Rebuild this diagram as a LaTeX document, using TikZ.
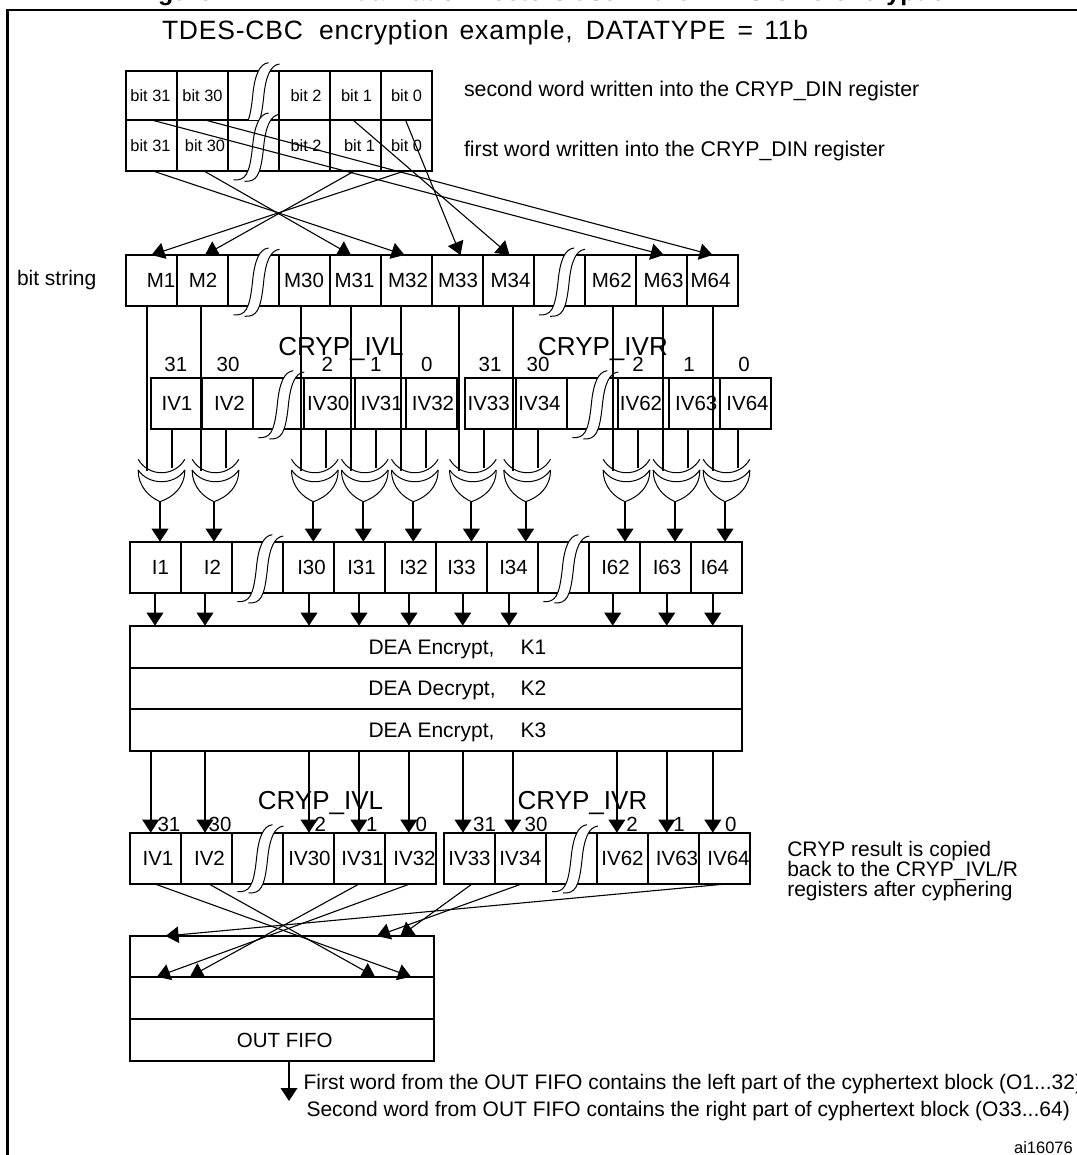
\documentclass[tikz,border=0pt]{standalone}
\usepackage{fontspec}
\setmainfont{Liberation Sans}
\usetikzlibrary{arrows.meta,calc}
\newcommand\fs[1]{\fontsize{#1}{#1}\selectfont}
\newcommand\off[2]{\makebox[0pt][c]{\hspace*{#1pt}\hspace*{#1pt}#2}}
\tikzset{
  x=1pt,y=-1pt,
  cell/.style={draw,line width=2pt,inner sep=0pt,outer sep=0pt,align=center,text depth=0pt},
  bitcell/.style={cell,font=\fs{16.4},text height=11.8pt},
  regcell/.style={cell,font=\fs{20.5},text height=14.7pt},
  txt/.style={inner sep=0pt,outer sep=0pt,anchor=base west,font=\fs{21.3}},
  idx/.style={inner sep=0pt,outer sep=0pt,font=\fs{20.5}},
  regname/.style={inner sep=0pt,outer sep=0pt,anchor=base,font=\fs{26}},
  slant/.style={line width=1.1pt,-{Triangle[length=13pt,width=16.5pt]}},
  bus/.style={line width=2pt,-{Triangle[length=13pt,width=16.5pt]}},
  feed/.style={line width=2pt},
  gateline/.style={line width=1pt},
  squigline/.style={line width=1pt}
}
\newcommand\cellbox[7][regcell]{\node[#1,minimum width={(#3-#2)*1pt},minimum height={(#5-#4)*1pt}] (#6) at ({(#2+#3)/2},{(#4+#5)/2}) {#7};}
\newcommand\squig[2]{%
  \begin{scope}[shift={(#1,#2)}]
    \fill[white] (0,0) .. controls (12,.5) and (16,-5) .. (19,-33) .. controls (21,-55) and (26,-66) .. (35,-67)
      -- (46,-65.7) .. controls (37,-64.7) and (32,-53.7) .. (30,-31.7) .. controls (27,-3.7) and (23,.8) .. (11,1.3) -- cycle;
    \draw[squigline] (0,0) .. controls (12,.5) and (16,-5) .. (19,-33) .. controls (21,-55) and (26,-66) .. (35,-67);
    \draw[squigline] (11,1.3) .. controls (23,1.8) and (27,-3.7) .. (30,-31.7) .. controls (32,-53.7) and (37,-64.7) .. (46,-65.7);
  \end{scope}}
\newcommand\xorgate[2]{%
  \pgfmathsetmacro\cx{#2+1.5}
  \draw[gateline] ({\cx-23.3},459.3) .. controls ({\cx-13},477.2) and ({\cx+13},477.2) .. ({\cx+23.3},459.3);
  \draw[gateline] ({\cx-23.3},470) .. controls ({\cx-13},485.6) and ({\cx+13},485.6) .. ({\cx+23.3},470);
  \draw[gateline] ({\cx-23.3},470) .. controls ({\cx-23.3},487) and ({\cx-12},497) .. (#2,501.7)
     .. controls ({\cx+12},497) and ({\cx+23.3},487) .. ({\cx+23.3},470);
  \coordinate (#1) at (#2,501.7);}
\begin{document}
\begin{tikzpicture}
\useasboundingbox (0,0) rectangle (1076,1155);
\fill[white] (0,0) rectangle (1076,1155);
% cut-off heading
\begin{scope}
  \clip (0,0) rectangle (1076,6);
  \node[txt,font=\fs{25}\bfseries] (heading) at (136,0.5) {Figure 211.\hspace{60pt}Initialization vectors use in the TDES-CBC encryption};
\end{scope}
% frame
\draw[line width=2.2pt] (1080,10) -- (7.5,10) -- (7.5,1160);
% title and notes
\node[txt,font=\fs{26.5}\addfontfeature{LetterSpace=3}] (title) at (162,39.5) {TDES-CBC\hspace{8pt} encryption\hspace{3pt} example,\hspace{5pt} DATATYPE\hspace{4pt} =\hspace{3pt} 11b};
\node[txt] (note2) at (464,97) {second word written into the CRYP\_DIN register};
\node[txt] (note1) at (464,157) {first word written into the CRYP\_DIN register};
\node[txt,font=\fs{21}] (bitstring) at (17,286) {bit string};
% input word registers
\cellbox[bitcell]{126}{177}{71}{120}{u31}{\off{-1}{bit 31}}
\cellbox[bitcell]{177}{228}{71}{120}{u30}{bit 30}
\cellbox[bitcell]{228}{279}{71}{120}{ub}{}
\cellbox[bitcell]{279}{330}{71}{120}{u2}{\off{1.5}{bit 2}}
\cellbox[bitcell]{330}{381}{71}{120}{u1}{\off{1}{bit 1}}
\cellbox[bitcell]{381}{432}{71}{120}{u0}{bit 0}
\cellbox[bitcell]{126}{177}{120}{171}{l31}{\off{-1}{bit 31}}
\cellbox[bitcell]{177}{228}{120}{171}{l30}{\off{2.5}{bit 30}}
\cellbox[bitcell]{228}{279}{120}{171}{lb}{}
\cellbox[bitcell]{279}{330}{120}{171}{l2}{\off{1.5}{bit 2}}
\cellbox[bitcell]{330}{381}{120}{171}{l1}{\off{4}{bit 1}}
\cellbox[bitcell]{381}{432}{120}{171}{l0}{bit 0}
\begin{scope}
  \clip (200,50) rectangle (300,120);
  \squig{233.6}{129.7}
\end{scope}
\squig{233.5}{180}
% bit string
\cellbox{126}{177}{255}{305.7}{m1}{\off{9.5}{M1}}
\cellbox{177}{228}{255}{305.7}{m2}{\off{.5}{M2}}
\cellbox{228}{279}{255}{305.7}{mb}{}
\cellbox{279}{330}{255}{305.7}{m30}{\off{-.5}{M30}}
\cellbox{330}{381}{255}{305.7}{m31}{\off{-1}{M31}}
\cellbox{381}{432}{255}{305.7}{m32}{\off{1.5}{M32}}
\cellbox{432}{483}{255}{305.7}{m33}{\off{.5}{M33}}
\cellbox{483}{534}{255}{305.7}{m34}{\off{2}{M34}}
\cellbox{534}{585}{255}{305.7}{mc}{}
\cellbox{585}{636}{255}{305.7}{m62}{\off{1.3}{M62}}
\cellbox{636}{687}{255}{305.7}{m63}{\off{2}{M63}}
\cellbox{687}{738}{255}{305.7}{m64}{\off{-2}{M64}}
\squig{233.5}{315}
\squig{539}{315}
% word to bit string connectors
\draw[slant] ([xshift=1.5pt]l31.south) -- ([xshift=-2pt]m32.north);
\draw[slant] ([xshift=1.5pt]l30.south) -- ([xshift=-4.5pt]m31.north);
\draw[slant] ([xshift=-1pt]l1.south) -- ([xshift=2.5pt]m2.north);
\draw[slant] ([xshift=-2pt]l0.south) -- (m1.north);
\draw[slant] (u31.south) -- ([xshift=2.3pt]m63.north);
\draw[slant] ([xshift=2.5pt]u30.south) -- (m64.north);
\draw[slant] ([xshift=-2.5pt]u1.south) -- ([xshift=1pt]m34.north);
\draw[slant] ([xshift=-1pt]u0.south) -- ([xshift=3pt]m33.north);
% IV registers (before XOR)
\cellbox{151}{202}{377.7}{429}{a1}{\off{.5}{IV1}}
\cellbox{202}{253}{377.7}{429}{a2}{\off{2}{IV2}}
\cellbox{253}{303.5}{377.7}{429}{ab}{}
\cellbox{303.5}{354.5}{377.7}{429}{a30}{\off{-.7}{IV30}}
\cellbox{354.5}{405.5}{377.7}{429}{a31}{\off{1.7}{IV31}}
\cellbox{405.5}{456.5}{377.7}{429}{a32}{\off{2}{IV32}}
\cellbox{464.5}{515.5}{377.7}{429}{a33}{\off{-1.3}{IV33}}
\cellbox{515.5}{566.5}{377.7}{429}{a34}{\off{-1.5}{IV34}}
\cellbox{566.5}{617.5}{377.7}{429}{ac}{}
\cellbox{617.5}{668.5}{377.7}{429}{a62}{\off{-2}{IV62}}
\cellbox{668.5}{719.5}{377.7}{429}{a63}{\off{2.3}{IV63}}
\cellbox{719.5}{770.5}{377.7}{429}{a64}{\off{2.5}{IV64}}
\squig{258.3}{437.7}
\squig{572.3}{437.7}
\node[regname] (ivl) at (341,355) {CRYP\_IVL};
\node[regname] (ivr) at (603,355) {CRYP\_IVR};
\foreach \n/\x/\t in {i31/175.8/31,i30/228/30,i2/327.3/2,i1/375.7/1,i0/426.7/0,j31/490/31,j30/538/30,j2/638/2,j1/689/1,j0/744/0}
  \node[idx] (\n) at (\x,364) {\t};
% XOR gates
\foreach \g/\ax/\mx/\ivx/\mc/\ac/\ic in {
  g1/160/147/171.7/m1/a1/r1,
  g2/214/200.8/226/m2/a2/r2,
  g30/313.3/300.6/325.7/m30/a30/r30,
  g31/363.3/350.6/376/m31/a31/r31,
  g32/413.3/400.5/426/m32/a32/r32,
  g33/471.4/459/484/m33/a33/r33,
  g34/525.7/513/537.7/m34/a34/r34,
  g62/625/612.8/637.7/m62/a62/r62,
  g63/675/663/687.7/m63/a63/r63,
  g64/725/713/737.7/m64/a64/r64}{
  \xorgate{\g}{\ax}
  \coordinate (\g m) at (\mx,470.7);
  \coordinate (\g v) at (\ivx,468);
  \draw[feed] (\mc.south -| \g m) -- (\g m);
  \draw[feed] (\ac.south -| \g v) -- (\g v);
}
% input block I
\cellbox{130}{181}{541.7}{592.5}{r1}{\off{5}{I1}}
\cellbox{181}{232}{541.7}{592.5}{r2}{\off{6}{I2}}
\cellbox{232}{283}{541.7}{592.5}{rb}{}
\cellbox{283}{334}{541.7}{592.5}{r30}{\off{3}{I30}}
\cellbox{334}{385}{541.7}{592.5}{r31}{\off{2}{I31}}
\cellbox{385}{436}{541.7}{592.5}{r32}{\off{3}{I32}}
\cellbox{436}{487}{541.7}{592.5}{r33}{I33}
\cellbox{487}{538}{541.7}{592.5}{r34}{\off{1}{I34}}
\cellbox{538}{589}{541.7}{592.5}{rc}{}
\cellbox{589}{640}{541.7}{592.5}{r62}{\off{1}{I62}}
\cellbox{640}{691}{541.7}{592.5}{r63}{\off{1.5}{I63}}
\cellbox{691}{742}{541.7}{592.5}{r64}{\off{-1.7}{I64}}
\squig{237.3}{601.7}
\squig{543.3}{601.7}
\foreach \g/\ic in {g1/r1,g2/r2,g30/r30,g31/r31,g32/r32,g33/r33,g34/r34,g62/r62,g63/r63,g64/r64}
  \draw[bus] (\g) -- (\ic.north -| \g);
% DEA block
\cellbox{130}{742}{625.7}{667.7}{d1}{\off{21.4}{\fs{21}DEA Encrypt,\hspace{26pt}K1}}
\cellbox{130}{742}{667.7}{709}{d2}{\off{21.4}{\fs{21}DEA Decrypt,\hspace{25pt}K2}}
\cellbox{130}{742}{709}{750.7}{d3}{\off{21.4}{\fs{21}DEA Encrypt,\hspace{26pt}K3}}
\foreach \n/\x in {r1/155,r2/205,r30/309,r31/359,r32/409,r33/462.7,r34/509,r62/612.7,r63/666.7,r64/712.7}{
  \coordinate (col\n) at (\x,0);
  \draw[bus] (\n.south -| col\n) -- (d1.north -| col\n);
}
% IV registers (after cyphering)
\cellbox{130}{181}{832.7}{884}{p1}{\off{2.5}{IV1}}
\cellbox{181}{232}{832.7}{884}{p2}{\off{3}{IV2}}
\cellbox{232}{283}{832.7}{884}{pb}{}
\cellbox{283}{334}{832.7}{884}{p30}{\off{1}{IV30}}
\cellbox{334}{385}{832.7}{884}{p31}{\off{3}{IV31}}
\cellbox{385}{436}{832.7}{884}{p32}{\off{4}{IV32}}
\cellbox{444}{495}{832.7}{884}{p33}{IV33}
\cellbox{495}{546}{832.7}{884}{p34}{IV34}
\cellbox{546}{597}{832.7}{884}{pc}{}
\cellbox{597}{648}{832.7}{884}{p62}{IV62}
\cellbox{648}{699}{832.7}{884}{p63}{\off{3.5}{IV63}}
\cellbox{699}{750}{832.7}{884}{p64}{\off{4}{IV64}}
\squig{237.5}{891.7}
\squig{552}{891.7}
\node[regname] (ivl2) at (320.5,809) {CRYP\_IVL};
\node[regname] (ivr2) at (582.5,809) {CRYP\_IVR};
\foreach \n/\x/\t in {k31/169/31,k30/220/30,k2/320.4/2,k1/371.8/1,k0/421.4/0,q31/484.6/31,q30/536/30,q2/632/2,q1/679/1,q0/730.8/0}
  \node[idx] (\n) at (\x,824) {\t};
\foreach \n/\x in {p1/150.7,p2/205,p30/309,p31/358.9,p32/408.8,p33/463,p34/512.8,p62/616.9,p63/666.8,p64/712.8}{
  \coordinate (col\n) at (\x,0);
  \draw[bus] (d3.south -| col\n) -- (\n.north -| col\n);
}
\node[txt,align=left,font=\fs{21}] (copied) at (787.3,856.7) {CRYP result is copied};
\node[txt,font=\fs{21}] (copied2) at (787.3,876.7) {back to the CRYP\_IVL/R};
\node[txt,font=\fs{21}] (copied3) at (787.3,896.7) {registers after cyphering};
% OUT FIFO
\cellbox{130}{434}{936}{976.7}{f1}{}
\cellbox{130}{434}{976.7}{1018.7}{f2}{}
\cellbox{130}{434}{1018.7}{1060.7}{f3}{\off{2.7}{OUT FIFO}}
\draw[slant] ([xshift=-.5pt]p1.south) -- ([xshift=129pt]f1.south);
\draw[slant] ([xshift=2.5pt]p2.south) -- ([xshift=93pt]f1.south);
\draw[slant] ([xshift=-.5pt]p31.south) -- ([xshift=-92pt]f1.south);
\draw[slant] ([xshift=-.8pt]p32.south) -- ([xshift=-125pt]f1.south);
\draw[slant] ([xshift=2.5pt]p33.south) -- ([xshift=118.4pt]f1.north);
\draw[slant] ([xshift=1pt]p34.south) -- ([xshift=95pt]f1.north);
\draw[slant] ([xshift=1.2pt]p64.south) -- ([xshift=-116.4pt]f1.north);
\coordinate (outcol) at (289,1101);
\draw[bus] (f3.south -| outcol) -- (outcol);
\node[txt,font=\fs{21}] (first) at (303.6,1089) {First word from the OUT FIFO contains the left part of the cyphertext block (O1...32)};
\node[txt,font=\fs{21}] (second) at (306.5,1116) {Second word from OUT FIFO contains the right part of cyphertext block (O33...64)};
\node[inner sep=0pt,anchor=base east,font=\fs{16.5}] (ref) at (1073,1153) {ai16076};
\end{tikzpicture}
\end{document}
